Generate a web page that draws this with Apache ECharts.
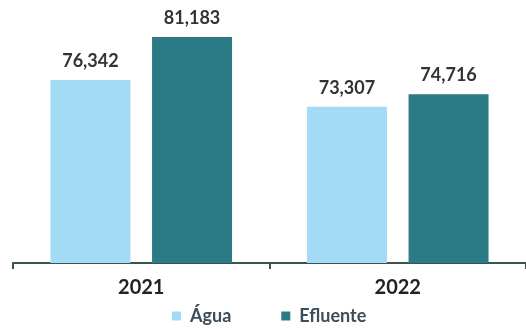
<!DOCTYPE html>
<html>
<head>
<meta charset="utf-8">
<script src="https://cdn.jsdelivr.net/npm/echarts@6/dist/echarts.min.js"></script>
<style>
html,body{margin:0;padding:0;background:#fff;}
#chart{width:526px;height:329px;}
</style>
</head>
<body>
<div id="chart"></div>
<script>
const categories = ['2021', '2022'];
const seriesNames = ['Água', 'Efluente'];
const agua = [76342, 73307];
const efluente = [81183, 74716];

const chart = echarts.init(document.getElementById('chart'), null, {renderer: 'canvas'});
const fmt = v => v.toLocaleString('en-US');
const labelCfg = {
  show: true,
  position: 'top',
  distance: 10,
  fontFamily: 'Lato',
  fontWeight: 'bold',
  fontSize: 18,
  color: '#333333',
  formatter: p => fmt(p.value)
};
chart.setOption({
  animation: false,
  backgroundColor: '#ffffff',
  grid: {left: 13, right: -5, top: 0, bottom: 66, containLabel: false},
  legend: {
    data: seriesNames,
    left: 167,
    top: 301,
    itemWidth: 9,
    itemHeight: 9,
    itemGap: 50,
    icon: 'rect',
    textStyle: {fontFamily: 'Lato', fontWeight: 'bold', fontSize: 18, color: '#3d4d59', padding: [0, 0, 0, 4], lineHeight: 20}
  },
  xAxis: {
    type: 'category',
    data: categories,
    axisLine: {show: true, lineStyle: {color: '#3b5350', width: 2}},
    axisTick: {show: true, length: 6, lineStyle: {color: '#3b5350', width: 2}},
    axisLabel: {fontFamily: 'Lato', fontWeight: 'bold', fontSize: 20, color: '#222222', margin: 15}
  },
  yAxis: {
    type: 'value',
    min: 55650,
    max: 85370,
    show: false,
    splitLine: {show: false}
  },
  series: [
    {name: seriesNames[0], type: 'bar', data: agua, barWidth: 80, barGap: '27%', itemStyle: {color: '#a3dbf7'}, label: labelCfg},
    {name: seriesNames[1], type: 'bar', data: efluente, barWidth: 80, itemStyle: {color: '#2b7b86'}, label: labelCfg}
  ]
});
</script>
</body>
</html>
